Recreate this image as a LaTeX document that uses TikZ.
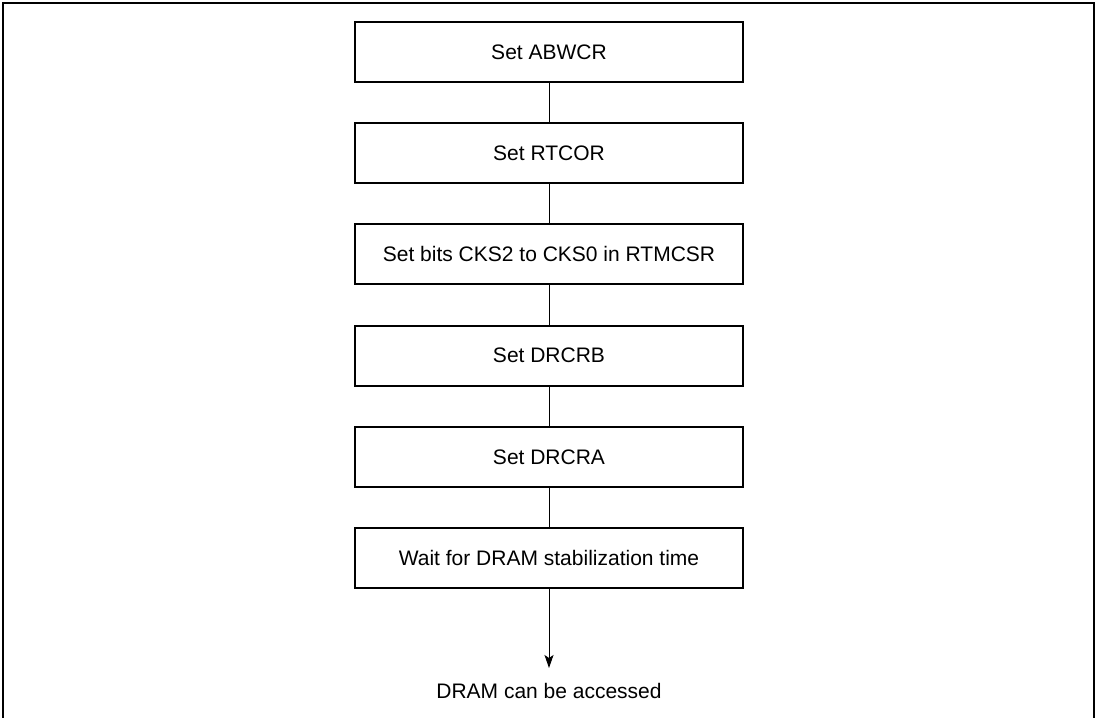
\documentclass[tikz,border=0pt]{standalone}
\usepackage{fontspec}
\setmainfont{Liberation Sans}
\usetikzlibrary{arrows.meta}
\begin{document}
\begin{tikzpicture}[x=1pt,y=-1pt,
  stepbox/.style={draw,line width=2pt,minimum width=388pt,minimum height=60pt,inner sep=0pt,font=\fontsize{21}{25}\selectfont},
  conn/.style={line width=1pt},
  lbl/.style={inner sep=0pt,font=\fontsize{21}{25}\selectfont}]
\useasboundingbox (0,0) rectangle (1099,717);
\draw[line width=1.5pt] (3,718) -- (3,3) -- (1094,3) -- (1094,718);
\node[stepbox] (b1) at (549,52) {Set ABWCR};
\node[stepbox] (b2) at (549,153.2) {Set RTCOR};
\node[stepbox] (b3) at (549,254.4) {Set bits CKS2 to CKS0 in RTMCSR};
\node[stepbox] (b4) at (549,355.6) {Set DRCRB};
\node[stepbox] (b5) at (549,456.8) {Set DRCRA};
\node[stepbox] (b6) at (549,558) {Wait for DRAM stabilization time};
\node[lbl] (end) at (549,691) {DRAM can be accessed};
\coordinate (tip) at (549,668);
\draw[conn] (b1) -- (b2);
\draw[conn] (b2) -- (b3);
\draw[conn] (b3) -- (b4);
\draw[conn] (b4) -- (b5);
\draw[conn] (b5) -- (b6);
\draw[conn,-{Stealth[length=13pt,width=9pt,inset=3pt]}] (b6) -- (tip);
\end{tikzpicture}
\end{document}
